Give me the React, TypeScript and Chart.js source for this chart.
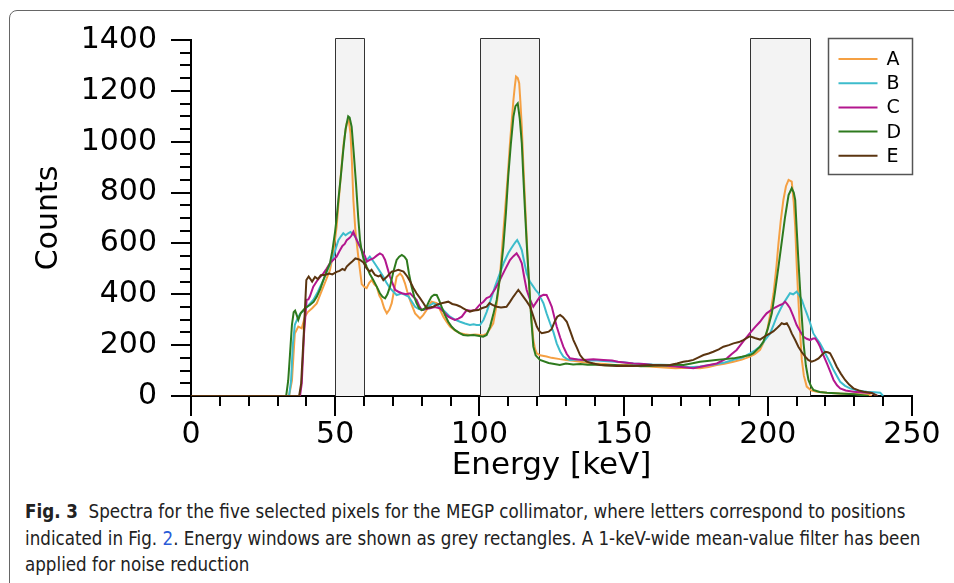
import React, { useEffect, useRef } from 'react';
import { Chart, registerables } from 'chart.js';

Chart.register(...registerables);

// ---------- data ----------
const seriesLabels = ['A', 'B', 'C', 'D', 'E'];
const seriesColors = ['#f5a043', '#3dbccc', '#b3168e', '#2e7a1e', '#5b3510'];

const energiesA = [0, 34, 35, 36, 37.2, 38.4, 39.5, 40.5, 42, 43.6, 45, 45.9, 47, 48.2, 49.3, 50.5, 51.3, 52.2, 53, 54, 54.7, 55.3, 55.8, 56.3, 57, 58, 59.2, 60, 60.9, 61.8, 62.7, 63.5, 64.4, 65.3, 66.1, 67, 67.9, 68.8, 69.6, 70.5, 71.3, 72.5, 73.3, 74.2, 75, 75.9, 76.8, 77.7, 79.4, 80.5, 81.7, 82.5, 83.4, 85.2, 86.3, 87.5, 88.6, 89.8, 91.5, 93.3, 95, 96.7, 98.5, 100.2, 101.3, 102.5, 103.7, 104.8, 106, 107.1, 108, 108.9, 109.8, 110.6, 111.2, 111.8, 112.3, 112.7, 113.3, 113.8, 114.2, 114.7, 115.2, 115.8, 116.4, 117, 117.8, 118.7, 119.3, 119.9, 121, 123.3, 125, 127.9, 130, 132.5, 135, 137.5, 140, 143.5, 147, 150, 153, 156.5, 160, 164, 168, 172, 176.5, 179.5, 182.3, 185, 188.1, 191, 193.8, 195.5, 197.3, 198.5, 199.6, 200.8, 202, 203, 203.7, 204.5, 205.4, 206.3, 207.2, 208.3, 209, 209.5, 210, 210.6, 211.2, 211.8, 212.5, 213.5, 215, 217, 220.5, 225, 230, 235, 236];
const countsA = [0, 0, 60, 246, 273, 266, 312, 330, 345, 364, 405, 430, 462, 496, 560, 666, 780, 902, 1000, 1072, 1085, 1033, 920, 771, 650, 548, 440, 430, 424, 445, 456, 440, 430, 395, 378, 345, 325, 340, 365, 420, 469, 482, 470, 443, 410, 378, 350, 325, 305, 318, 338, 355, 371, 365, 340, 312, 292, 273, 258, 247, 243, 240, 242, 240, 238, 245, 265, 286, 360, 469, 600, 731, 860, 994, 1080, 1164, 1220, 1256, 1250, 1230, 1160, 1059, 920, 771, 620, 482, 340, 220, 185, 168, 160, 155, 150, 145, 142, 139, 135, 131, 128, 126, 122, 123, 120, 118, 115, 112, 109, 111, 109, 114, 122, 127, 135, 143, 155, 165, 181, 210, 246, 320, 404, 510, 600, 690, 771, 825, 850, 843, 760, 666, 520, 378, 250, 142, 80, 37, 22, 17, 13, 10, 8, 5, 0];

const energiesB = [0, 34, 34.7, 35.3, 36, 37.2, 38, 39.5, 41, 42.4, 44, 45.9, 47.5, 49.4, 50.2, 51.1, 52, 52.8, 53.6, 54.5, 55.3, 56.2, 57, 58, 58.6, 59.5, 60.3, 61, 62, 63.2, 64.4, 65.5, 66.7, 67.8, 69, 70.2, 71.3, 72.2, 73.1, 74.2, 75.4, 76.5, 77.7, 79, 80.6, 82.3, 84, 85.5, 86.9, 88.4, 89.8, 91.5, 93.3, 95, 96.7, 98, 99, 100.2, 101.4, 102.5, 103.7, 105.4, 107.1, 108.5, 110, 111, 111.8, 112.5, 113.1, 113.8, 114.7, 115.5, 116.4, 117.5, 118.7, 119.6, 120.5, 121.3, 122.2, 123.3, 124.5, 125.7, 126.8, 128, 129.1, 130.3, 131.4, 134, 136.5, 140, 143, 146, 150, 153.4, 157, 160, 163, 166, 169.5, 173, 176.5, 180, 182.5, 185, 188.1, 191, 193.9, 195.6, 197.3, 199, 200.8, 202, 203.1, 204.3, 205.4, 206.6, 207.7, 208.8, 210, 211, 211.8, 212.6, 213.5, 214.6, 215.8, 217, 218.1, 219.3, 220.5, 221.7, 222.8, 224, 225.1, 226.8, 228.5, 231, 234.3, 237, 239, 240];
const countsB = [0, 0, 60, 200, 280, 312, 325, 340, 360, 378, 410, 456, 500, 548, 580, 613, 628, 640, 632, 640, 645, 635, 627, 600, 587, 565, 540, 535, 548, 530, 509, 490, 469, 445, 424, 410, 397, 400, 404, 398, 391, 372, 351, 342, 338, 352, 365, 356, 345, 328, 312, 300, 292, 285, 279, 282, 279, 279, 299, 330, 370, 430, 482, 525, 561, 580, 594, 605, 613, 598, 574, 530, 482, 450, 430, 415, 404, 385, 365, 325, 286, 250, 207, 175, 155, 146, 142, 144, 140, 141, 138, 136, 133, 128, 126, 124, 123, 122, 118, 113, 116, 122, 126, 132, 142, 150, 168, 180, 194, 220, 246, 280, 312, 340, 364, 385, 404, 400, 410, 395, 378, 352, 325, 290, 246, 225, 207, 182, 155, 128, 102, 78, 56, 40, 30, 22, 17, 15, 13, 0];

const energiesC = [0, 37.8, 38.4, 39.2, 40.1, 40.7, 41.2, 42.4, 44, 45.9, 47, 48.2, 49.3, 50.5, 51.5, 52.5, 53.3, 54, 55, 55.6, 56.3, 57, 58, 59.2, 60.4, 60.9, 62, 63.2, 64.4, 65.5, 66.4, 67.3, 68.2, 69, 70, 70.8, 71.9, 73.1, 74.5, 76, 77.1, 78.2, 79.1, 80, 81.4, 82.9, 84.5, 86.3, 87.7, 89.2, 90.3, 91.5, 92.7, 93.9, 94.8, 95.6, 97, 98.5, 100.2, 101.4, 102.5, 103.7, 105.4, 107.1, 108.8, 110.6, 111.8, 112.9, 113.8, 114.7, 115.5, 116.4, 117.5, 118.7, 119.8, 121, 122.2, 123.3, 124.2, 125.1, 126, 126.8, 128, 129.1, 130.3, 131.4, 134, 136, 139.5, 143, 146, 148, 151, 153.4, 157, 160, 163, 166, 170, 174.2, 178, 182.3, 185.8, 187.5, 189.2, 191.5, 193.8, 195.5, 197.3, 198.5, 199.6, 202, 204.3, 205.2, 206, 206.8, 207.7, 208.8, 210, 211.2, 212.4, 213.5, 214.7, 215.5, 216.4, 217.3, 218.1, 219.3, 220.5, 221.7, 222.8, 224, 225.1, 227, 229.7, 233, 236, 238];
const countsC = [0, 0, 50, 246, 378, 380, 391, 430, 458, 482, 500, 523, 535, 548, 570, 590, 598, 613, 622, 630, 646, 625, 600, 575, 548, 528, 535, 541, 552, 561, 555, 535, 500, 469, 440, 417, 410, 404, 400, 404, 390, 378, 355, 338, 342, 345, 350, 345, 330, 312, 305, 299, 304, 312, 326, 338, 335, 338, 360, 371, 385, 391, 420, 456, 495, 535, 550, 561, 545, 522, 470, 417, 380, 351, 370, 391, 398, 397, 375, 351, 310, 273, 230, 194, 165, 148, 144, 142, 145, 142, 140, 135, 131, 128, 126, 122, 121, 118, 114, 109, 118, 128, 148, 165, 181, 215, 247, 270, 292, 310, 325, 345, 358, 362, 371, 360, 345, 315, 279, 255, 233, 225, 220, 225, 227, 212, 194, 160, 128, 95, 63, 42, 30, 22, 17, 14, 12, 0];

const energiesD = [0, 33, 33.7, 34.3, 35, 35.6, 36.1, 36.6, 37.2, 38, 39.5, 41.2, 42.5, 43.6, 44.8, 45.9, 47, 48.2, 49, 49.9, 50.5, 51.1, 52, 52.8, 53.6, 54.5, 55, 55.7, 56.4, 57.2, 58, 58.6, 59.2, 59.8, 60.9, 62, 63.2, 64.4, 65.5, 66.4, 67.3, 68.1, 69, 70.2, 71.3, 72.2, 73.1, 74, 74.8, 75.6, 76.5, 77.4, 78.2, 79.1, 80, 80.8, 81.7, 82.5, 83.4, 84.3, 85.2, 86, 86.9, 88, 89.2, 90.4, 91.5, 93, 94.4, 96, 97.9, 99.5, 101.3, 102.5, 103.7, 104.8, 106, 107.2, 108.3, 109.2, 110, 110.9, 111.8, 112.5, 113.3, 114, 114.7, 115.2, 115.8, 116.5, 117.3, 118, 118.7, 119.5, 121, 124, 127.9, 130, 132.5, 135, 137.5, 140, 143.5, 147, 150, 153, 156, 159, 162, 165, 168, 170.7, 173.5, 176.5, 179, 182, 185, 188.1, 191, 193.8, 195, 197.3, 198.5, 200, 201.4, 202.5, 203.7, 205, 206, 207.2, 208.3, 209, 209.5, 210, 210.6, 211.5, 212.4, 213.2, 214.1, 215, 215.8, 218, 220.5, 225, 230, 235];
const countsD = [0, 0, 60, 160, 280, 330, 336, 320, 299, 325, 345, 358, 370, 390, 420, 456, 490, 523, 570, 641, 700, 771, 870, 967, 1050, 1100, 1095, 1059, 960, 838, 700, 613, 570, 540, 509, 480, 456, 430, 404, 390, 384, 400, 430, 490, 535, 548, 555, 548, 535, 480, 430, 390, 365, 345, 338, 342, 351, 372, 391, 398, 397, 378, 351, 320, 292, 272, 260, 248, 240, 238, 240, 237, 233, 240, 273, 320, 378, 470, 587, 720, 863, 990, 1099, 1140, 1151, 1090, 994, 870, 731, 580, 430, 300, 194, 160, 142, 130, 122, 128, 124, 126, 123, 124, 121, 122, 119, 120, 117, 118, 121, 120, 124, 122, 128, 135, 138, 142, 145, 148, 154, 161, 168, 194, 214, 265, 325, 410, 509, 620, 705, 790, 817, 800, 771, 660, 535, 360, 207, 120, 63, 38, 24, 16, 13, 10, 7, 0];

const energiesE = [0, 37.5, 38.2, 39.1, 40, 40.8, 42, 43, 44, 45, 46.6, 48, 49, 50.5, 51.5, 52.5, 53.3, 54, 55, 56, 57, 58, 58.6, 59.8, 60.9, 62, 62.6, 63.8, 65, 65.7, 66.7, 68, 69.6, 70.8, 71.9, 73.7, 75, 76, 77.1, 78.2, 79.4, 80.6, 81.7, 82.8, 84, 85.5, 86.9, 88, 89.2, 90.6, 92.1, 93.3, 94.4, 95.5, 96.7, 98, 99.6, 100.8, 102.5, 103.5, 104.5, 106, 107.5, 109.4, 110.6, 111.8, 112.7, 113.5, 114.3, 115.2, 116.4, 117.6, 118.8, 119.9, 120.8, 121.6, 122.8, 124, 125, 126.2, 127, 128, 129, 130.3, 131.5, 132.6, 133.8, 134.9, 136, 137.2, 139.5, 141.8, 144.5, 147.6, 150.5, 153.4, 156.5, 159.2, 162.5, 166.1, 168.5, 170.7, 172.5, 174.2, 176, 177.7, 179.5, 181.1, 183, 184.6, 186.5, 188.1, 190, 191.5, 193.8, 195.5, 197.3, 199, 200.8, 202, 203.1, 204, 204.8, 205.7, 206.6, 207.5, 208.3, 209.5, 210.6, 211.8, 213, 214, 215.2, 216.4, 217.6, 218.8, 219.9, 220.8, 221.6, 222.8, 223.9, 225.3, 226.8, 228.2, 229.7, 231.5, 233.2, 236, 238];
const countsE = [0, 0, 50, 246, 456, 470, 450, 468, 460, 475, 477, 482, 478, 488, 492, 500, 495, 509, 520, 530, 541, 538, 535, 525, 502, 490, 496, 476, 470, 475, 456, 470, 489, 492, 496, 489, 470, 450, 425, 404, 385, 365, 345, 348, 351, 360, 365, 368, 371, 362, 358, 352, 345, 338, 332, 336, 338, 345, 351, 365, 358, 351, 348, 351, 370, 391, 405, 417, 405, 391, 372, 351, 310, 273, 255, 247, 250, 253, 262, 295, 312, 319, 310, 292, 255, 220, 190, 161, 145, 135, 128, 122, 120, 118, 119, 118, 120, 122, 121, 122, 128, 135, 138, 142, 152, 161, 167, 174, 183, 194, 200, 207, 212, 220, 235, 228, 222, 235, 246, 255, 266, 276, 286, 282, 286, 268, 246, 220, 194, 172, 155, 142, 135, 140, 148, 162, 174, 172, 168, 142, 115, 88, 63, 45, 30, 22, 17, 12, 0];

const seriesEnergies = [energiesA, energiesB, energiesC, energiesD, energiesE];
const seriesCounts = [countsA, countsB, countsC, countsD, countsE];

// energy windows (keV)
const windowStarts = [50, 100.3, 193.8];
const windowEnds = [60, 120.6, 214.6];

// axis ranges / ticks
const xMin = 0, xMax = 250, xMajorStep = 50, xMinorStep = 10;
const yMin = 0, yMax = 1400, yMajorStep = 200, yMinorStep = 50;

const FONT = "'DejaVu Sans', sans-serif";

const windowsPlugin = {
  id: 'energyWindows',
  beforeDatasetsDraw(chart: any) {
    const { ctx, scales } = chart;
    const xs = scales.x, ys = scales.y;
    ctx.save();
    for (let i = 0; i < windowStarts.length; i++) {
      const x1 = Math.round(xs.getPixelForValue(windowStarts[i])) + 0.5;
      const x2 = Math.round(xs.getPixelForValue(windowEnds[i])) + 0.5;
      const y1 = Math.round(ys.getPixelForValue(yMax)) - 1.5;
      const y2 = Math.round(ys.getPixelForValue(yMin));
      ctx.fillStyle = '#f3f3f3';
      ctx.fillRect(x1, y1, x2 - x1, y2 - y1);
      ctx.strokeStyle = '#333';
      ctx.lineWidth = 1;
      ctx.beginPath();
      ctx.moveTo(x1, y2);
      ctx.lineTo(x1, y1);
      ctx.lineTo(x2, y1);
      ctx.lineTo(x2, y2);
      ctx.stroke();
    }
    ctx.restore();
  },
};

const minorTicksPlugin = {
  id: 'minorTicks',
  afterDraw(chart: any) {
    const { ctx, scales, chartArea } = chart;
    const xs = scales.x, ys = scales.y;
    ctx.save();
    ctx.strokeStyle = '#000';
    ctx.lineWidth = 2;
    ctx.beginPath();
    for (let v = xMin; v <= xMax; v += xMinorStep) {
      if (v % xMajorStep === 0) continue;
      const px = Math.round(xs.getPixelForValue(v));
      ctx.moveTo(px, chartArea.bottom);
      ctx.lineTo(px, chartArea.bottom + 10);
    }
    for (let v = yMin; v <= yMax; v += yMinorStep) {
      if (v % yMajorStep === 0) continue;
      const py = Math.round(ys.getPixelForValue(v));
      ctx.moveTo(chartArea.left, py);
      ctx.lineTo(chartArea.left - 11, py);
    }
    ctx.stroke();
    ctx.restore();
  },
};

const legendPlugin = {
  id: 'boxLegend',
  afterDraw(chart: any) {
    const { ctx, chartArea } = chart;
    const w = 84, h = 136;
    const left = Math.round(chartArea.right - w) + 0.5;
    const top = Math.round(chartArea.top - 2) + 0.5;
    ctx.save();
    ctx.fillStyle = '#fff';
    ctx.fillRect(left, top, w, h);
    ctx.strokeStyle = '#555';
    ctx.lineWidth = 1.5;
    ctx.strokeRect(left, top, w, h);
    ctx.font = `19px ${FONT}`;
    ctx.textBaseline = 'middle';
    ctx.textAlign = 'left';
    chart.data.datasets.forEach((ds: any, i: number) => {
      const y = top + 20.5 + i * 24.2;
      ctx.strokeStyle = ds.borderColor;
      ctx.lineWidth = 2;
      ctx.beginPath();
      ctx.moveTo(left + 10, y);
      ctx.lineTo(left + 49, y);
      ctx.stroke();
      ctx.fillStyle = '#000';
      ctx.fillText(ds.label, left + 58, y + 1);
    });
    ctx.restore();
  },
};

export default function App() {
  const canvasRef = useRef<HTMLCanvasElement | null>(null);

  useEffect(() => {
    if (!canvasRef.current) return;
    const datasets = seriesLabels.map((label, i) => ({
      label,
      data: seriesEnergies[i].map((e, j) => ({ x: e, y: seriesCounts[i][j] })),
      borderColor: seriesColors[i],
      backgroundColor: seriesColors[i],
      borderWidth: 2,
      pointRadius: 0,
      fill: false,
      tension: 0,
      order: seriesLabels.length - i,
    }));
    const chart = new Chart(canvasRef.current, {
      type: 'line',
      data: { datasets },
      plugins: [windowsPlugin, minorTicksPlugin, legendPlugin],
      options: {
        animation: false,
        responsive: false,
        devicePixelRatio: 1,
        layout: { padding: { left: 0, right: 42, top: 40, bottom: 0 } },
        plugins: { legend: { display: false }, tooltip: { enabled: false } },
        scales: {
          x: {
            type: 'linear',
            min: xMin,
            max: xMax,
            ticks: {
              stepSize: xMajorStep,
              color: '#000',
              font: { family: FONT, size: 30 },
              padding: 1,
              maxRotation: 0,
              autoSkip: false,
              callback: (v: any) => String(v),
            },
            grid: { display: true, drawOnChartArea: false, drawTicks: true, tickLength: 20, color: '#000', lineWidth: 2 },
            border: { display: true, color: '#000', width: 2 },
            title: {
              display: true,
              text: 'Energy [keV]',
              color: '#000',
              font: { family: FONT, size: 31 },
              padding: { top: 0, bottom: 5 },
            },
            afterFit: (scale: any) => { scale.height = 94; },
          },
          y: {
            type: 'linear',
            min: yMin,
            max: yMax,
            ticks: {
              stepSize: yMajorStep,
              color: '#000',
              font: { family: FONT, size: 30 },
              padding: 14,
              autoSkip: false,
              callback: (v: any) => String(v),
            },
            grid: { display: true, drawOnChartArea: false, drawTicks: true, tickLength: 20, color: '#000', lineWidth: 2 },
            border: { display: true, color: '#000', width: 2 },
            title: {
              display: true,
              text: 'Counts',
              color: '#000',
              font: { family: FONT, size: 30 },
              padding: { top: 31, bottom: 0 },
            },
            afterFit: (scale: any) => { scale.width = 191; },
          },
        },
      },
    } as any);
    return () => chart.destroy();
  }, []);

  const captionFont = "'Liberation Sans Narrow', 'DejaVu Sans Condensed', 'Open Sans', sans-serif";

  return (
    <div style={{ position: 'absolute', left: 0, top: 0, width: 954, height: 583, overflow: 'hidden', background: '#fff' }}>
      <div style={{ position: 'absolute', left: 9, top: 10, width: 1100, height: 800, border: '1px solid #666', borderRadius: 8, boxSizing: 'border-box' }} />
      <canvas ref={canvasRef} width={954} height={490} style={{ position: 'absolute', left: 0, top: 0, width: 954, height: 490 }} />
      <div style={{ position: 'absolute', left: 25, top: 499, whiteSpace: 'nowrap', fontFamily: captionFont, fontStretch: 'condensed', fontSize: 18.6, lineHeight: '26.5px', color: '#222' }}>
        <b>Fig. 3</b>&nbsp; Spectra for the five selected pixels for the MEGP collimator, where letters correspond to positions<br />
        indicated in Fig. <span style={{ color: '#2a5bd7' }}>2</span>. Energy windows are shown as grey rectangles. A 1-keV-wide mean-value filter has been<br />
        applied for noise reduction
      </div>
    </div>
  );
}
